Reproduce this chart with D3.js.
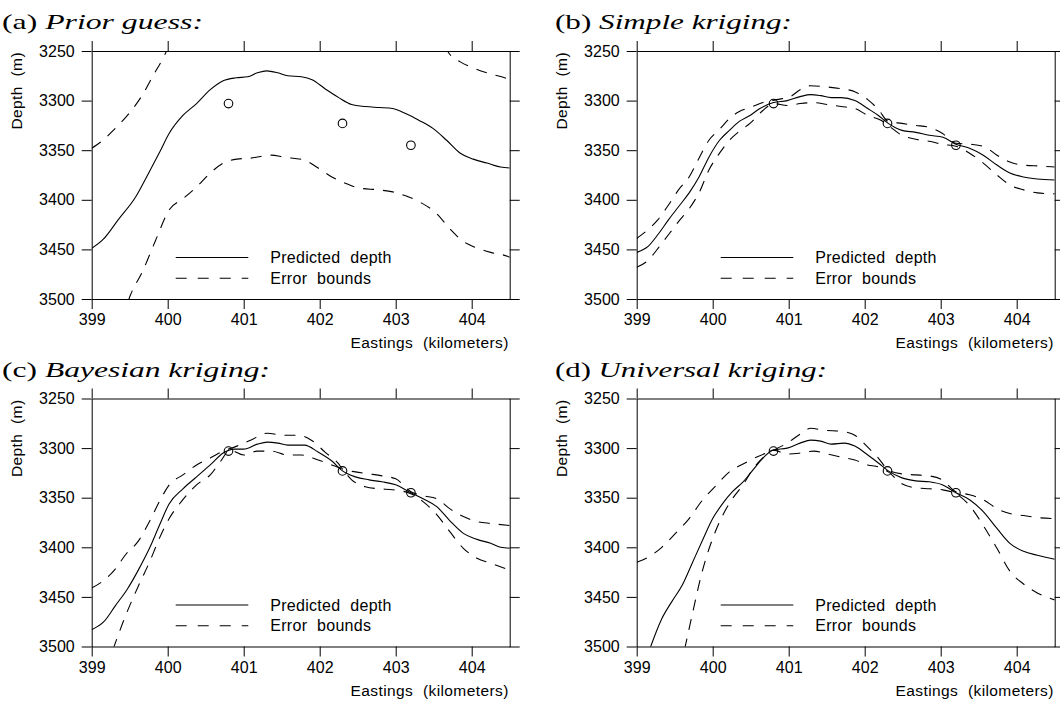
<!DOCTYPE html>
<html>
<head>
<meta charset="utf-8">
<script src="https://cdn.jsdelivr.net/npm/d3@7"></script>
<style>
    body { margin: 0; background: #fff; }
    svg { display: block; }
    .tick text { font-family: "Liberation Sans", Arial, sans-serif; font-size: 16px; fill: #000; }
    .axis-title { font-family: "Liberation Sans", Arial, sans-serif; font-size: 15.5px; fill: #000; word-spacing: 5px; letter-spacing: 0.4px; }
    .legend-label { font-family: "Liberation Sans", Arial, sans-serif; font-size: 16px; fill: #000; word-spacing: 5px; letter-spacing: 0.3px; }
    .panel-title { font-family: "Liberation Serif", "Times New Roman", serif; font-size: 22px; fill: #000; }
</style>
</head>
<body>
<div id="chart-area"></div>
<script>

// axis ticks
const xTicks = [399, 400, 401, 402, 403, 404];
const yTicks = [3250, 3300, 3350, 3400, 3450, 3500];
const xDomain = [399, 404.5];
const yDomain = [3250, 3500];

// well observations (easting km, depth m)
const wells = [[400.8, 3303], [402.3, 3323], [403.2, 3345]];

// (a) prior guess
const priorPred = [[399.00,3449],[399.15,3440],[399.35,3420],[399.58,3397],[399.75,3373],[399.90,3351],[400.02,3333],[400.20,3315],[400.38,3303],[400.56,3289],[400.73,3280],[400.90,3277],[401.05,3276],[401.18,3272],[401.30,3270],[401.45,3272],[401.58,3275],[401.76,3276],[401.90,3279],[402.07,3288],[402.25,3297],[402.42,3304],[402.60,3306],[402.78,3307],[402.96,3308],[403.13,3313],[403.31,3320],[403.49,3328],[403.67,3340],[403.85,3353],[404.02,3359],[404.20,3363],[404.38,3367],[404.50,3368]];
const priorUpperLeft = [[399.00,3348],[399.13,3341],[399.31,3328],[399.49,3313],[399.67,3294],[399.80,3276],[399.96,3254],[400.02,3244]];
const priorUpperRight = [[403.66,3245],[403.69,3251],[403.85,3261],[404.02,3267],[404.20,3272],[404.47,3278],[404.50,3279]];
const priorLower = [[399.48,3502],[399.51,3496],[399.67,3472],[399.84,3441],[400.02,3410],[400.20,3399],[400.38,3387],[400.56,3373],[400.73,3363],[400.91,3359],[401.09,3358],[401.36,3355],[401.53,3357],[401.80,3360],[401.98,3368],[402.16,3377],[402.33,3383],[402.51,3388],[402.78,3390],[402.96,3392],[403.13,3396],[403.31,3402],[403.54,3414],[403.71,3429],[403.89,3442],[404.02,3447],[404.25,3453],[404.47,3457],[404.50,3458]];

// (b) simple kriging
const simplePred = [[399.00,3453],[399.15,3447],[399.28,3435],[399.42,3420],[399.55,3407],[399.69,3393],[399.82,3377],[399.95,3357],[400.09,3340],[400.22,3330],[400.35,3321],[400.49,3315],[400.62,3308],[400.80,3302],[400.98,3300],[401.15,3296],[401.29,3294],[401.42,3295],[401.56,3297],[401.69,3297],[401.87,3300],[402.04,3308],[402.18,3315],[402.31,3323],[402.49,3330],[402.67,3332],[402.85,3335],[403.03,3337],[403.20,3344],[403.38,3348],[403.56,3355],[403.74,3365],[403.91,3373],[404.09,3377],[404.27,3379],[404.50,3380]];
const simpleUpper = [[399.00,3439],[399.15,3430],[399.28,3420],[399.42,3405],[399.55,3390],[399.69,3377],[399.82,3358],[399.95,3340],[400.09,3329],[400.22,3318],[400.35,3311],[400.49,3307],[400.66,3302],[400.84,3299],[401.02,3296],[401.15,3289],[401.29,3285],[401.47,3286],[401.69,3288],[401.87,3291],[402.04,3299],[402.18,3309],[402.31,3321],[402.49,3323],[402.67,3325],[402.85,3327],[403.02,3333],[403.20,3343],[403.38,3344],[403.56,3346],[403.74,3355],[403.91,3362],[404.09,3365],[404.31,3366],[404.50,3367]];
const simpleLower = [[399.00,3468],[399.15,3461],[399.28,3449],[399.42,3435],[399.55,3422],[399.69,3409],[399.82,3393],[399.95,3370],[400.09,3353],[400.22,3340],[400.35,3331],[400.49,3323],[400.66,3310],[400.80,3303],[400.98,3305],[401.15,3303],[401.33,3302],[401.51,3304],[401.69,3306],[401.87,3308],[402.04,3315],[402.22,3320],[402.31,3325],[402.49,3335],[402.67,3339],[402.85,3341],[403.02,3344],[403.20,3346],[403.38,3353],[403.56,3363],[403.74,3375],[403.91,3385],[404.09,3390],[404.27,3393],[404.50,3394]];

// (c) bayesian kriging
const bayesPred = [[399.00,3483],[399.16,3475],[399.31,3459],[399.47,3442],[399.62,3422],[399.76,3401],[399.89,3378],[400.02,3356],[400.20,3341],[400.38,3329],[400.56,3317],[400.73,3305],[400.87,3301],[401.00,3301],[401.18,3296],[401.31,3294],[401.45,3295],[401.58,3297],[401.80,3297],[401.98,3304],[402.16,3313],[402.30,3323],[402.47,3329],[402.65,3332],[402.82,3334],[403.00,3337],[403.20,3345],[403.36,3351],[403.54,3359],[403.71,3373],[403.89,3386],[404.07,3392],[404.25,3396],[404.38,3400],[404.50,3401]];
const bayesUpper = [[399.00,3441],[399.13,3435],[399.31,3422],[399.44,3408],[399.62,3393],[399.76,3374],[399.89,3354],[400.02,3337],[400.20,3327],[400.38,3317],[400.56,3310],[400.73,3303],[400.91,3298],[401.09,3292],[401.31,3285],[401.53,3287],[401.71,3287],[401.89,3292],[402.07,3304],[402.25,3316],[402.30,3321],[402.47,3324],[402.65,3326],[402.82,3328],[403.00,3331],[403.20,3344],[403.36,3348],[403.54,3351],[403.71,3361],[403.89,3369],[404.07,3374],[404.25,3376],[404.50,3378]];
const bayesLower = [[399.28,3503],[399.44,3470],[399.62,3438],[399.76,3415],[399.89,3391],[400.02,3371],[400.20,3352],[400.38,3337],[400.56,3327],[400.69,3314],[400.82,3302],[401.00,3307],[401.18,3303],[401.36,3303],[401.58,3307],[401.76,3307],[401.98,3312],[402.16,3317],[402.30,3322],[402.42,3332],[402.60,3339],[402.78,3341],[402.96,3342],[403.20,3346],[403.36,3354],[403.54,3367],[403.71,3384],[403.89,3401],[404.07,3411],[404.25,3416],[404.50,3423]];

// (d) universal kriging
const universalPred = [[399.17,3503],[399.33,3472],[399.46,3455],[399.60,3438],[399.73,3416],[399.86,3394],[400.00,3371],[400.13,3356],[400.26,3344],[400.40,3334],[400.53,3322],[400.66,3310],[400.80,3302],[400.98,3300],[401.15,3295],[401.29,3292],[401.42,3293],[401.56,3296],[401.73,3295],[401.87,3298],[402.04,3307],[402.18,3315],[402.31,3323],[402.49,3330],[402.67,3333],[402.85,3334],[403.02,3337],[403.20,3345],[403.38,3352],[403.56,3364],[403.74,3381],[403.91,3396],[404.09,3404],[404.27,3408],[404.50,3412]];
const universalUpper = [[399.00,3415],[399.15,3410],[399.33,3400],[399.51,3386],[399.69,3371],[399.86,3353],[400.04,3338],[400.22,3324],[400.40,3316],[400.58,3309],[400.80,3302],[400.98,3295],[401.15,3286],[401.29,3280],[401.47,3282],[401.69,3283],[401.87,3287],[402.04,3299],[402.18,3310],[402.31,3322],[402.49,3326],[402.67,3327],[402.85,3328],[403.02,3332],[403.20,3344],[403.38,3347],[403.56,3352],[403.74,3361],[403.91,3366],[404.09,3368],[404.27,3370],[404.50,3371]];
const universalLower = [[399.63,3503],[399.73,3468],[399.86,3425],[400.00,3391],[400.13,3368],[400.26,3351],[400.40,3337],[400.53,3321],[400.66,3310],[400.80,3302],[400.98,3306],[401.15,3305],[401.33,3303],[401.51,3306],[401.69,3309],[401.87,3312],[402.04,3317],[402.18,3319],[402.31,3324],[402.49,3336],[402.67,3340],[402.85,3341],[403.02,3342],[403.20,3346],[403.38,3358],[403.56,3378],[403.74,3401],[403.91,3424],[404.09,3437],[404.27,3446],[404.50,3453]];

const panelTags = ["(a)", "(b)", "(c)", "(d)"];
const panelNames = ["Prior guess:", "Simple kriging:", "Bayesian kriging:", "Universal kriging:"];
const legendLabels = ["Predicted depth", "Error bounds"];

const panelData = [
    {pred: priorPred, bounds: [priorUpperLeft, priorUpperRight, priorLower]},
    {pred: simplePred, bounds: [simpleUpper, simpleLower]},
    {pred: bayesPred, bounds: [bayesUpper, bayesLower]},
    {pred: universalPred, bounds: [universalUpper, universalLower]}
];


class KrigingPanel {

    constructor(_svg, _index, _data) {
        this.svg = _svg;
        this.index = _index;
        this.data = _data;

        this.initVis();
    }

    initVis() {
        let vis = this;

        vis.width = 418;
        vis.height = 248;
        let col = vis.index % 2, row = Math.floor(vis.index / 2);
        vis.left = col === 0 ? 91.7 : 636.7;
        vis.top = row === 0 ? 51 : 398.5;

        vis.g = vis.svg.append("g")
            .attr("transform", "translate(" + vis.left + "," + vis.top + ")");

        vis.x = d3.scaleLinear().domain(xDomain).range([0, vis.width]);
        vis.y = d3.scaleLinear().domain(yDomain).range([0, vis.height]);

        vis.g.append("defs").append("clipPath")
            .attr("id", "clip" + vis.index)
            .append("rect")
            .attr("width", vis.width)
            .attr("height", vis.height);

        // axes, ticks outward on all four sides
        vis.g.append("g")
            .attr("class", "x-axis")
            .attr("transform", "translate(0," + vis.height + ")")
            .call(d3.axisBottom(vis.x).tickValues(xTicks).tickSize(10).tickSizeOuter(0).tickPadding(5).tickFormat(d3.format("d")));
        vis.g.append("g")
            .call(d3.axisTop(vis.x).tickValues(xTicks).tickSize(10).tickSizeOuter(0).tickFormat(""));
        vis.g.append("g")
            .attr("class", "y-axis")
            .call(d3.axisLeft(vis.y).tickValues(yTicks).tickSize(10).tickSizeOuter(0).tickPadding(7).tickFormat(d3.format("d")));
        vis.g.append("g")
            .attr("transform", "translate(" + vis.width + ",0)")
            .call(d3.axisRight(vis.y).tickValues(yTicks).tickSize(10).tickSizeOuter(0).tickFormat(""));

        vis.g.selectAll(".domain, .tick line")
            .attr("stroke", "#000")
            .attr("stroke-width", 1);
        vis.g.selectAll(".tick text").attr("font-size", null).attr("font-family", null);

        // axis titles
        vis.g.append("text")
            .attr("class", "axis-title")
            .attr("text-anchor", "end")
            .attr("x", vis.width - 1)
            .attr("y", vis.height + 49)
            .text("Eastings (kilometers)");

        vis.g.append("text")
            .attr("class", "axis-title")
            .attr("text-anchor", "end")
            .attr("transform", "translate(-70,1) rotate(-90)")
            .text("Depth (m)");

        // panel title
        let titleWidths = [201, 237, 268, 272];
        let title = vis.svg.append("text")
            .attr("class", "panel-title")
            .attr("x", col === 0 ? 2 : 555)
            .attr("y", vis.top - 22)
            .attr("textLength", titleWidths[vis.index])
            .attr("lengthAdjust", "spacingAndGlyphs");
        title.append("tspan").text(panelTags[vis.index] + " ");
        title.append("tspan").style("font-style", "italic").text(panelNames[vis.index]);

        vis.updateVis();
    }

    updateVis() {
        let vis = this;

        let line = d3.line()
            .curve(d3.curveMonotoneX)
            .x(d => vis.x(d[0]))
            .y(d => vis.y(d[1]));

        let plot = vis.g.append("g").attr("clip-path", "url(#clip" + vis.index + ")");

        plot.selectAll(".bound")
            .data(vis.data.bounds)
            .enter().append("path")
            .attr("class", "bound")
            .attr("d", line)
            .attr("fill", "none")
            .attr("stroke", "#000")
            .attr("stroke-width", 1.1)
            .attr("stroke-dasharray", "11,9");

        plot.append("path")
            .datum(vis.data.pred)
            .attr("d", line)
            .attr("fill", "none")
            .attr("stroke", "#000")
            .attr("stroke-width", 1.1);

        vis.g.selectAll(".well")
            .data(wells)
            .enter().append("circle")
            .attr("class", "well")
            .attr("cx", d => vis.x(d[0]))
            .attr("cy", d => vis.y(d[1]))
            .attr("r", 4.3)
            .attr("fill", "none")
            .attr("stroke", "#000")
            .attr("stroke-width", 1.1);

        // legend
        let legend = vis.g.selectAll(".legend")
            .data(legendLabels)
            .enter().append("g")
            .attr("class", "legend")
            .attr("transform", (d, i) => "translate(84," + (206.5 + i * 20.7) + ")");

        legend.append("line")
            .attr("x1", 0)
            .attr("x2", 72.6)
            .attr("stroke", "#000")
            .attr("stroke-width", 1.1)
            .attr("stroke-dasharray", (d, i) => i === 0 ? null : "11,11");

        legend.append("text")
            .attr("class", "legend-label")
            .attr("x", 94.5)
            .attr("y", 5.6)
            .text(d => d);
    }
}

let svg = d3.select("#chart-area").append("svg")
    .attr("width", 1060)
    .attr("height", 704);

panelData.forEach((d, i) => new KrigingPanel(svg, i, d));

</script>
</body>
</html>
